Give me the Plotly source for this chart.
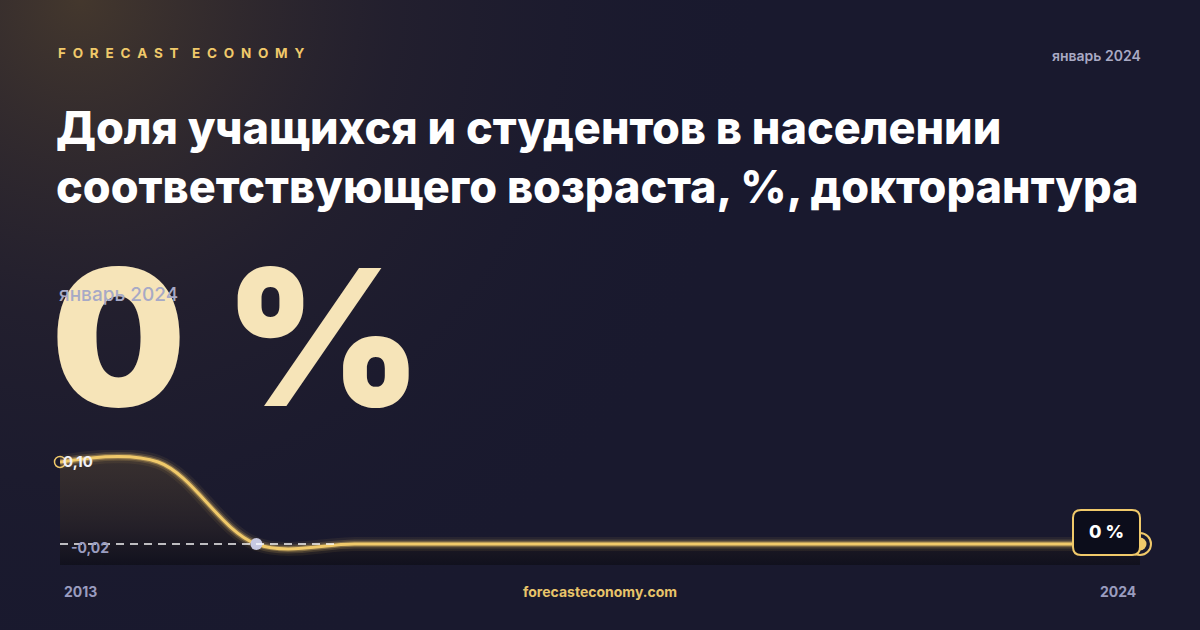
import plotly.graph_objects as go

# data
years = [2013, 2014, 2015, 2016, 2017, 2018, 2019, 2020, 2021, 2022, 2023, 2024]
values = [0.10, 0.10, 0.0, 0.0, 0.0, 0.0, 0.0, 0.0, 0.0, 0.0, 0.0, 0.0]
min_year = 2015
y_floor = -0.0256
y_top = 0.1146
y_labels = ["0,10", "-0,02"]
x_labels = ["2013", "2024"]
big_value = "0 %"
period = "январь 2024"
title = "Доля учащихся и студентов в населении<br>соответствующего возраста, %, докторантура"
brand = "FORECAST ECONOMY"
site = "forecasteconomy.com"

GOLD = "#f0c96a"
NAVY = "#19192e"
GREY = "#9a9cbf"
FONT = "Inter"

fig = go.Figure()

# background glow (top-left), drawn on full-page axes
fig.add_trace(go.Scatter(
    x=[-620, 780, 780, -620, -620], y=[-70, -70, 1330, 1330, -70],
    mode="lines", line=dict(width=0), fill="toself",
    fillgradient=dict(type="radial", colorscale=[
        [0, "rgba(70,57,45,0.95)"], [0.45, "rgba(42,36,46,0.55)"], [1, "rgba(25,25,46,0)"]]),
    hoverinfo="skip", showlegend=False, xaxis="x", yaxis="y"))

# area baseline
fig.add_trace(go.Scatter(
    x=[years[0], years[-1]], y=[y_floor, y_floor], mode="lines",
    line=dict(width=0), hoverinfo="skip", showlegend=False,
    xaxis="x2", yaxis="y2"))
# area fill under curve
fig.add_trace(go.Scatter(
    x=years, y=values, mode="lines", line=dict(width=0, shape="spline", smoothing=1),
    fill="tonexty",
    fillgradient=dict(type="vertical", colorscale=[
        [0, "rgba(14,14,24,0.75)"], [0.35, "rgba(40,34,38,0.7)"], [1, "rgba(78,64,48,0.55)"]]),
    hoverinfo="skip", showlegend=False, xaxis="x2", yaxis="y2"))

# glow + line
for w, a in [(14, 0.07), (9, 0.16), (5.5, 0.35)]:
    fig.add_trace(go.Scatter(
        x=years, y=values, mode="lines",
        line=dict(width=w, color=f"rgba(240,201,106,{a})", shape="spline", smoothing=1),
        hoverinfo="skip", showlegend=False, xaxis="x2", yaxis="y2"))
fig.add_trace(go.Scatter(
    x=years, y=values, mode="lines",
    line=dict(width=3, color=GOLD, shape="spline", smoothing=1),
    showlegend=False, xaxis="x2", yaxis="y2"))

# min reference line
fig.add_shape(type="line", xref="x2", yref="y2", x0=years[0], x1=min_year + 0.8,
              y0=min(values), y1=min(values), line=dict(color="rgba(255,255,255,0.95)", width=1.3, dash="8px,6px"))

# markers
fig.add_trace(go.Scatter(
    x=[years[0]], y=[values[0]], mode="markers",
    marker=dict(size=11, color="rgba(0,0,0,0)", line=dict(color=GOLD, width=1.5)),
    cliponaxis=False, showlegend=False, xaxis="x2", yaxis="y2"))
fig.add_trace(go.Scatter(
    x=[min_year], y=[values[years.index(min_year)]], mode="markers",
    marker=dict(size=12, color="#c7c9e2"),
    cliponaxis=False, showlegend=False, xaxis="x2", yaxis="y2"))
fig.add_trace(go.Scatter(
    x=[years[-1]], y=[values[-1]], mode="markers",
    marker=dict(size=22, color="rgba(0,0,0,0)", line=dict(color=GOLD, width=2)),
    cliponaxis=False, showlegend=False, xaxis="x2", yaxis="y2"))
fig.add_trace(go.Scatter(
    x=[years[-1]], y=[values[-1]], mode="markers",
    marker=dict(size=13, color=GOLD),
    cliponaxis=False, showlegend=False, xaxis="x2", yaxis="y2"))

# badge with rounded corners
bx0, bx1, by0, by1 = 1073 / 1200, 1140 / 1200, 1 - 555 / 630, 1 - 510 / 630
rx, ry = 8 / 1200, 8 / 630
path = (f"M {bx0+rx},{by0} L {bx1-rx},{by0} Q {bx1},{by0} {bx1},{by0+ry} "
        f"L {bx1},{by1-ry} Q {bx1},{by1} {bx1-rx},{by1} L {bx0+rx},{by1} "
        f"Q {bx0},{by1} {bx0},{by1-ry} L {bx0},{by0+ry} Q {bx0},{by0} {bx0+rx},{by0} Z")
fig.add_shape(type="path", xref="paper", yref="paper", path=path,
              fillcolor="#0c0d1b", line=dict(color=GOLD, width=2))

ann = []
def txt(x, y, text, size, color, weight=700, xanchor="left", yanchor="middle"):
    ann.append(dict(x=x / 1200, y=1 - y / 630, xref="paper", yref="paper", text=text,
                    showarrow=False, xanchor=xanchor, yanchor=yanchor, align=xanchor if xanchor != "center" else "center",
                    font=dict(family=FONT, size=size, color=color, weight=weight)))

spaced = "\u2002".join(brand).replace("\u2002 \u2002", "\u2002\u2002")
txt(56, 53, spaced, 13.5, GOLD, 700)
txt(1143, 55, period, 14, "#a9aac4", 600, xanchor="right")
txt(54, 157, title, 45, "#ffffff", 800)
txt(49, 337, big_value, 190, "#f6e4b8", 900)
txt(57, 294, period, 19, "#a7a9c6", 500)
txt(1106, 531, big_value, 18, "#ffffff", 800, xanchor="center")
txt(61, 462, y_labels[0], 15, "#f0f0f6", 700)
txt(69, 547, y_labels[1], 14, GREY, 700)
txt(62, 591, x_labels[0], 14, GREY, 700)
txt(1138, 591, x_labels[1], 14, GREY, 700, xanchor="right")
txt(600, 591, site, 14, "#e8c46a", 700, xanchor="center")

fig.update_layout(
    width=1200, height=630, margin=dict(l=0, r=0, t=0, b=0),
    paper_bgcolor=NAVY, plot_bgcolor="rgba(0,0,0,0)",
    xaxis=dict(domain=[0, 1], range=[0, 1200], visible=False, fixedrange=True),
    yaxis=dict(domain=[0, 1], range=[0, 630], visible=False, fixedrange=True),
    xaxis2=dict(domain=[60 / 1200, 1140 / 1200], range=[years[0], years[-1]], visible=False, anchor="y2"),
    yaxis2=dict(domain=[1 - 565 / 630, 1 - 450 / 630], range=[y_floor, y_top], visible=False, anchor="x2"),
    annotations=ann, hovermode=False,
)

fig.write_html("out.html", config={"displayModeBar": False},
               post_script="document.body.style.margin='0';document.body.style.background='#19192e';")
